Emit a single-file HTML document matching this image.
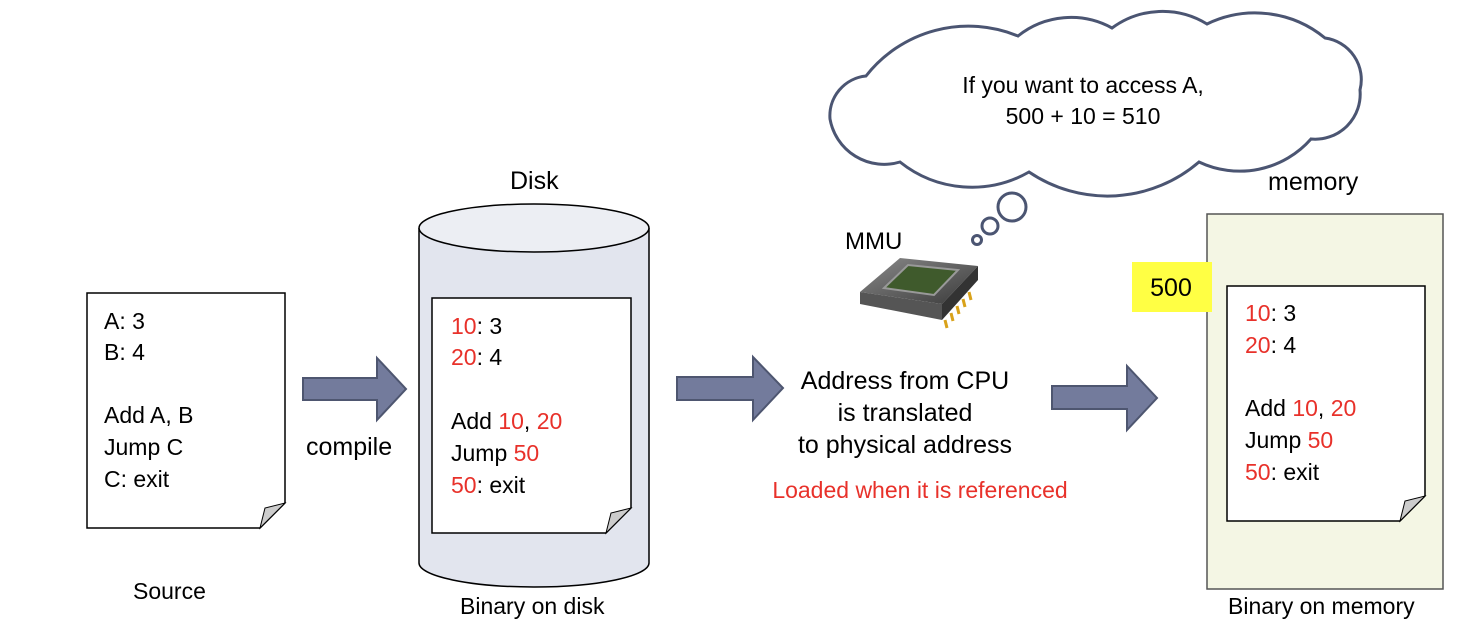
<!DOCTYPE html>
<html><head><meta charset="utf-8"><style>
html,body{margin:0;padding:0;background:#fff;width:1472px;height:644px;overflow:hidden}
svg text{font-family:"Liberation Sans",sans-serif}
</style></head><body>
<svg width="1472" height="644" viewBox="0 0 1472 644" xmlns="http://www.w3.org/2000/svg">
<defs>
<linearGradient id="cg" x1="0" y1="0" x2="1" y2="1"><stop offset="0" stop-color="#8a8a8a"/><stop offset="1" stop-color="#3a3a3a"/></linearGradient>
</defs>
<path d="M87 293 H285 V503 L260 528 H87 Z" fill="#fff" stroke="#000" stroke-width="1.5"/>
<path d="M260 528 L265 508 L285 503 Z" fill="#ccc" stroke="#000" stroke-width="1"/>
<g font-size="23" fill="#000">
<text x="104" y="329">A: 3</text>
<text x="104" y="360">B: 4</text>
<text x="104" y="423">Add A, B</text>
<text x="104" y="455">Jump C</text>
<text x="104" y="487">C: exit</text>
<text x="133" y="599">Source</text>
<text x="460" y="614">Binary on disk</text>
<text x="1228" y="614">Binary on memory</text>
</g>
<g font-size="25" fill="#000">
<text x="306" y="455">compile</text>
<text x="510" y="189">Disk</text>
<text x="1268" y="190">memory</text>
<text x="845" y="249" font-size="24">MMU</text>
</g>
<g fill="#737b9c" stroke="#4e5670" stroke-width="2">
<path d="M303 378 H377 V358 L406 389 L377 420 V400 H303 Z"/>
<path d="M677 377 H753 V357 L783 388 L753 420 V400 H677 Z"/>
<path d="M1052 386 H1127 V366 L1157 398 L1127 430 V409 H1052 Z"/>
</g>
<path d="M419 228 V563 A115 24 0 0 0 649 563 V228" fill="#e2e5ee" stroke="#000" stroke-width="1.5"/>
<ellipse cx="534" cy="228" rx="115" ry="24" fill="#eceef3" stroke="#000" stroke-width="1.5"/>
<path d="M432 298 H631 V508 L606 533 H432 Z" fill="#fff" stroke="#000" stroke-width="1.5"/>
<path d="M606 533 L611 513 L631 508 Z" fill="#ccc" stroke="#000" stroke-width="1"/>
<g font-size="23">
<text x="451" y="334"><tspan fill="#e8312a">10</tspan>: 3</text>
<text x="451" y="365"><tspan fill="#e8312a">20</tspan>: 4</text>
<text x="451" y="429">Add <tspan fill="#e8312a">10</tspan>, <tspan fill="#e8312a">20</tspan></text>
<text x="451" y="461">Jump <tspan fill="#e8312a">50</tspan></text>
<text x="451" y="493"><tspan fill="#e8312a">50</tspan>: exit</text>
</g>
<g font-size="25" text-anchor="middle">
<text x="905" y="389">Address from CPU</text>
<text x="905" y="421">is translated</text>
<text x="905" y="453">to physical address</text>
<text x="920" y="498" font-size="23" fill="#e8312a">Loaded when it is referenced</text>
</g>
<g>
<path d="M860 292 L900 258 L978 266 L942 304 Z" fill="url(#cg)"/>
<path d="M860 292 L942 304 L942 320 L860 304 Z" fill="#555"/>
<path d="M942 304 L978 266 L978 280 L942 320 Z" fill="#333"/>
<path d="M884 288 L908 265 L958 270 L934 295 Z" fill="#3f5a2c" stroke="#999" stroke-width="2"/>
<g stroke="#d9a21a" stroke-width="3">
<line x1="945" y1="320" x2="947" y2="328"/><line x1="951" y1="313" x2="953" y2="321"/><line x1="957" y1="306" x2="959" y2="314"/><line x1="963" y1="299" x2="965" y2="307"/><line x1="969" y1="292" x2="971" y2="300"/>
</g>
</g>
<path d="M866 76 A130 130 0 0 1 1018 36 A85 85 0 0 1 1112 28 A85 85 0 0 1 1207 24 A110 110 0 0 1 1325 38 A42 42 0 0 1 1360 90 A45 45 0 0 1 1311 139 A95 95 0 0 1 1199 162 A140 140 0 0 1 1029 172 A115 115 0 0 1 900 162 A55 55 0 0 1 830 119 A40 40 0 0 1 866 76 Z" fill="#fff" stroke="#4b5572" stroke-width="3"/>
<g fill="none" stroke="#4b5572" stroke-width="3">
<circle cx="1012" cy="207" r="14"/><circle cx="990" cy="226" r="8"/><circle cx="977" cy="240" r="4.5"/>
</g>
<g font-size="23" text-anchor="middle">
<text x="1083" y="93">If you want to access A,</text>
<text x="1083" y="124">500 + 10 = 510</text>
</g>
<rect x="1207" y="214" width="236" height="375" fill="#f4f6e4" stroke="#555" stroke-width="1.5"/>
<rect x="1132" y="262" width="80" height="50" fill="#ffff44"/>
<text x="1171" y="296" font-size="25" text-anchor="middle">500</text>
<path d="M1227 286 H1425 V496 L1400 521 H1227 Z" fill="#fff" stroke="#000" stroke-width="1.5"/>
<path d="M1400 521 L1405 501 L1425 496 Z" fill="#ccc" stroke="#000" stroke-width="1"/>
<g font-size="23">
<text x="1245" y="321"><tspan fill="#e8312a">10</tspan>: 3</text>
<text x="1245" y="353"><tspan fill="#e8312a">20</tspan>: 4</text>
<text x="1245" y="416">Add <tspan fill="#e8312a">10</tspan>, <tspan fill="#e8312a">20</tspan></text>
<text x="1245" y="448">Jump <tspan fill="#e8312a">50</tspan></text>
<text x="1245" y="480"><tspan fill="#e8312a">50</tspan>: exit</text>
</g>
</svg>
</body></html>
